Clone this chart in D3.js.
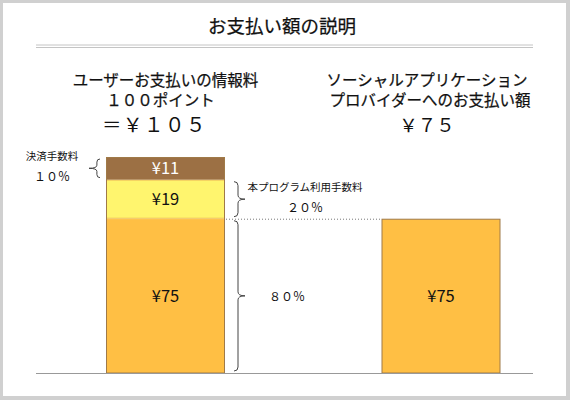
<!DOCTYPE html>
<html>
<head>
<meta charset="utf-8">
<script src="https://cdn.jsdelivr.net/npm/d3@7"></script>
<style>
  html, body { margin: 0; padding: 0; background: #d0d0d0; }
  svg { display: block; font-family: "Noto Sans CJK JP", "Noto Sans", sans-serif; }
  .heavy { stroke: #111; stroke-width: 0.25px; }
</style>
</head>
<body>
<svg id="chart" width="570" height="400"></svg>
<script>
  // stacked pieces of the left bar (bottom to top)
  var segNames = ['provider', 'program', 'payment'],
      segValues = [75, 19, 11],
      segLabels = ['¥75', '¥19', '¥11'],
      segColors = ['#ffbf44', '#fff56e', '#9c7044'],
      segText = ['#111', '#111', '#fff'];

  var columns = ['user', 'provider'],
      columnHeads = [
        ['ユーザーお支払いの情報料', '１００ポイント', '＝￥１０５'],
        ['ソーシャルアプリケーション', 'プロバイダーへのお支払い額', '￥７５']
      ],
      rightValue = 75,
      rightLabel = '¥75';

  var notes = [
    { seg: 'payment', side: 'left', lines: ['決済手数料', '１０％'] },
    { seg: 'program', side: 'right', lines: ['本プログラム利用手数料', '２０％'] },
    { seg: 'provider', side: 'right', lines: ['８０％'] }
  ];

  var svg = d3.select('#chart');

  svg.append('rect')
    .attr('x', 3).attr('y', 3)
    .attr('width', 563).attr('height', 393)
    .attr('fill', '#fff');

  // title + double rule
  svg.append('text')
    .attr('class', 'heavy')
    .attr('x', 282).attr('y', 33)
    .attr('text-anchor', 'middle')
    .attr('font-size', 18.5)
    .attr('fill', '#111')
    .text('お支払い額の説明');

  [45, 47.5].forEach(function(y) {
    svg.append('line')
      .attr('x1', 36).attr('x2', 533)
      .attr('y1', y).attr('y2', y)
      .attr('stroke', '#c4c4c4').attr('stroke-width', 1);
  });

  var x = d3.scalePoint().domain(columns).range([165.5, 441]),
      total = d3.sum(segValues),
      y = d3.scaleLinear().domain([0, total]).range([373, 157]);

  // stack left bar
  var stack = [], acc = 0;
  segValues.forEach(function(v, i) {
    stack.push({ name: segNames[i], y0: acc, y1: acc + v, label: segLabels[i], color: segColors[i], text: segText[i] });
    acc += v;
  });

  var bw = 119;
  var cx = function(c) { return x(c); };

  var segs = svg.append('g').selectAll('g')
    .data(stack)
    .enter()
      .append('g');

  segs.append('rect')
    .attr('x', cx('user') - bw / 2 + 0.5)
    .attr('width', bw - 1)
    .attr('y', function(d) { return y(d.y1) + 0.5; })
    .attr('height', function(d) { return y(d.y0) - y(d.y1) - 1; })
    .attr('fill', function(d) { return d.color; })
    .attr('stroke', function(d) { return d.name === 'program' ? '#f0c050' : d.color; });

  // outer frame of left bar
  svg.append('rect')
    .attr('x', cx('user') - bw / 2 + 0.5)
    .attr('y', y(total) + 0.5)
    .attr('width', bw - 1)
    .attr('height', y(0) - y(total) - 0.5)
    .attr('fill', 'none')
    .attr('stroke', '#a07a48');

  segs.append('text')
    .attr('x', cx('user'))
    .attr('y', function(d) { return (y(d.y0) + y(d.y1)) / 2 + 6; })
    .attr('text-anchor', 'middle')
    .attr('font-size', 16.5)
    .attr('fill', function(d) { return d.text; })
    .text(function(d) { return d.label; });

  // right bar
  svg.append('rect')
    .attr('x', cx('provider') - bw / 2 + 0.5)
    .attr('y', y(rightValue) + 0.5)
    .attr('width', bw - 1)
    .attr('height', y(0) - y(rightValue) - 0.5)
    .attr('fill', segColors[0])
    .attr('stroke', '#a07a48');

  svg.append('text')
    .attr('x', cx('provider'))
    .attr('y', (y(0) + y(rightValue)) / 2 + 6)
    .attr('text-anchor', 'middle')
    .attr('font-size', 16.5)
    .attr('fill', '#111')
    .text(rightLabel);

  // baseline
  svg.append('line')
    .attr('x1', 36).attr('x2', 533)
    .attr('y1', 373.5).attr('y2', 373.5)
    .attr('stroke', '#999');

  // dotted guide at top of the provider share
  svg.append('line')
    .attr('x1', cx('user') + bw / 2 + 1).attr('x2', cx('provider') - bw / 2)
    .attr('y1', y(75) + 0.5).attr('y2', y(75) + 0.5)
    .attr('stroke', '#777')
    .attr('stroke-dasharray', '1,2');

  // column headings (lines sit a little off the bar centre in the original)
  var headShift = [[0, -5, -11], [-14, -11, -14]];
  columns.forEach(function(c, i) {
    var lines = columnHeads[i];
    [80, 100].forEach(function(ty, j) {
      svg.append('text')
        .attr('class', 'heavy')
        .attr('x', cx(c) + headShift[i][j]).attr('y', ty + 5.5)
        .attr('text-anchor', 'middle')
        .attr('font-size', 15.5)
        .attr('fill', '#111')
        .text(lines[j]);
    });
    svg.append('text')
      .attr('x', cx(c) + headShift[i][2]).attr('y', 132)
      .attr('text-anchor', 'middle')
      .attr('font-size', i === 0 ? 19.5 : 18.5)
      .attr('letter-spacing', i === 0 ? 1.5 : 0)
      .attr('fill', '#111')
      .text(lines[2]);
  });

  // curly brace between y0 and y1 at x, pointing dir (+1 right, -1 left)
  var bracePath = function(bx, y0, y1, dir, w) {
    var m = (y0 + y1) / 2, r = Math.min(4, (y1 - y0) / 6);
    return 'M' + bx + ',' + y0 +
      ' Q' + (bx + dir * r) + ',' + y0 + ' ' + (bx + dir * r) + ',' + (y0 + r) +
      ' L' + (bx + dir * r) + ',' + (m - r) +
      ' Q' + (bx + dir * r) + ',' + m + ' ' + (bx + dir * w) + ',' + m +
      ' Q' + (bx + dir * r) + ',' + m + ' ' + (bx + dir * r) + ',' + (m + r) +
      ' L' + (bx + dir * r) + ',' + (y1 - r) +
      ' Q' + (bx + dir * r) + ',' + y1 + ' ' + bx + ',' + y1;
  };

  var segByName = {};
  stack.forEach(function(s) { segByName[s.name] = s; });

  notes.forEach(function(n) {
    var s = segByName[n.seg],
        top = y(s.y1) + 2, bot = y(s.y0) - 2,
        mid = (top + bot) / 2, bx, dir;

    if (n.side === 'left') { bx = cx('user') - bw / 2 - 6; dir = -1; }
    else { bx = cx('user') + bw / 2 + 9; dir = 1; }

    svg.append('path')
      .attr('d', bracePath(bx, top, bot, dir, 11))
      .attr('fill', 'none')
      .attr('stroke', '#444')
      .attr('stroke-width', 1);

    var tx;
    if (n.side === 'left') tx = 52;
    else if (n.lines.length > 1) tx = 305;
    else tx = 287;

    if (n.lines.length > 1) {
      svg.append('text')
        .attr('x', tx).attr('y', mid - 8)
        .attr('text-anchor', 'middle')
        .attr('font-size', 10.5)
        .attr('fill', '#111')
        .text(n.lines[0]);
      svg.append('text')
        .attr('x', tx).attr('y', mid + 13)
        .attr('text-anchor', 'middle')
        .attr('font-size', 12)
        .attr('fill', '#111')
        .text(n.lines[1]);
    } else {
      svg.append('text')
        .attr('x', tx).attr('y', mid + 5)
        .attr('text-anchor', 'middle')
        .attr('font-size', 12)
        .attr('fill', '#111')
        .text(n.lines[0]);
    }
  });
</script>
</body>
</html>
